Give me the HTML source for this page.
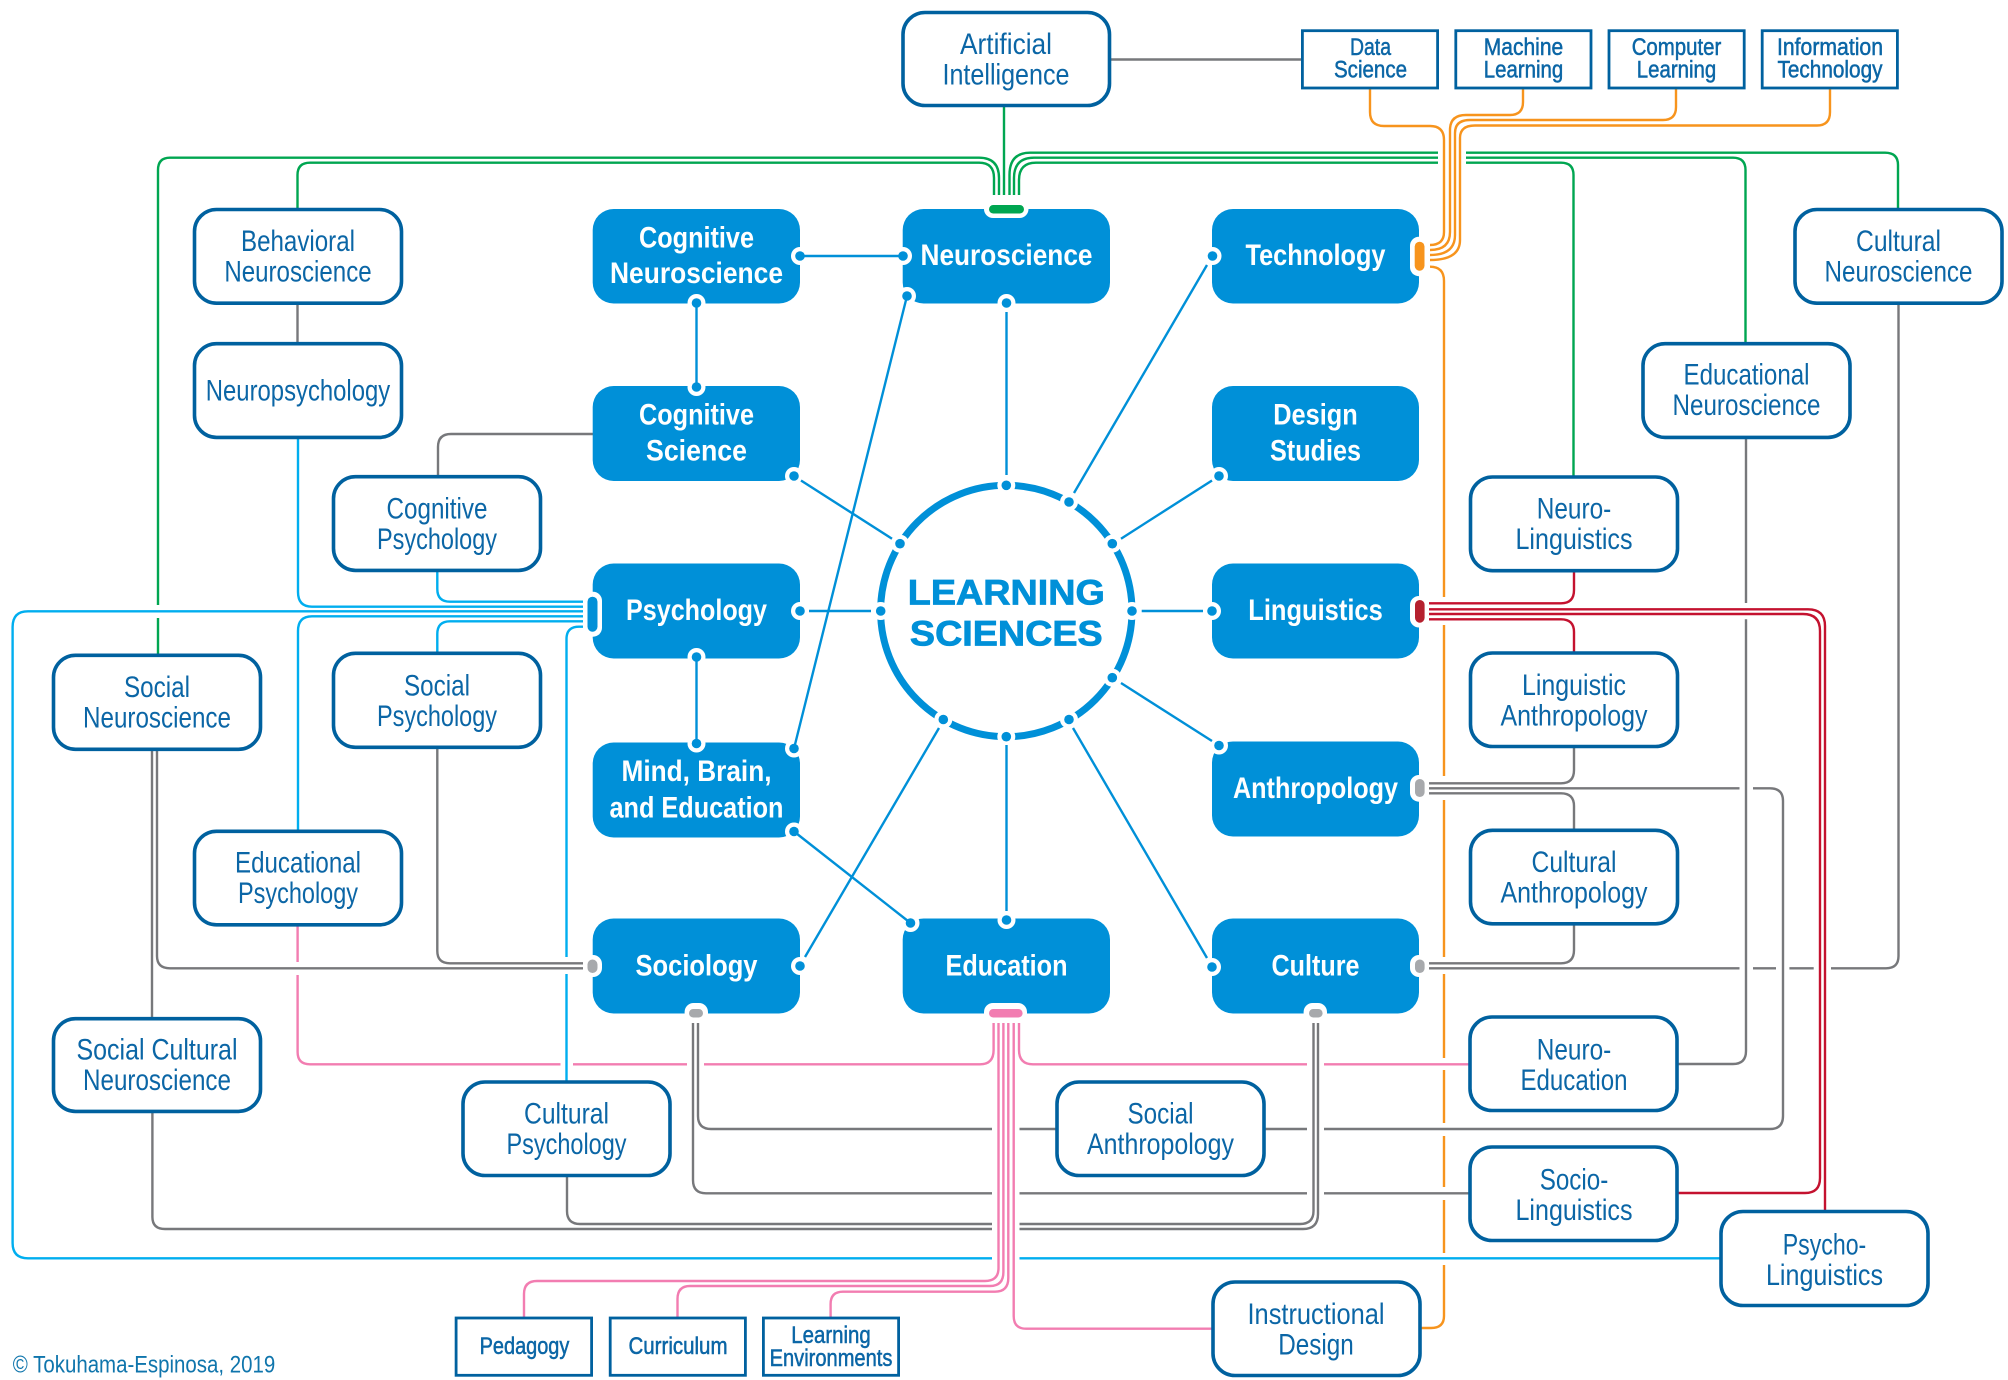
<!DOCTYPE html>
<html><head><meta charset="utf-8"><title>Learning Sciences</title>
<style>
html,body{margin:0;padding:0;background:#fff}
svg{display:block}
text{font-family:"Liberation Sans Narrow","Liberation Sans",sans-serif;text-anchor:middle}
.o text,text.o{font-size:30px;fill:#0b66a6}
.b text{font-size:30px;font-weight:bold;fill:#fff;font-family:"Liberation Sans",sans-serif}
.s text{font-size:24px;fill:#0b66a6;stroke:#0b66a6;stroke-width:.5}
.ob rect{fill:#fff;stroke:#00619f;stroke-width:3.6}
.sb rect{fill:#fff;stroke:#00619f;stroke-width:2.8}
.bb rect{fill:#0090d8}
.l path{fill:none;stroke-width:2.4}
.h{fill:#fff}
.d{fill:#0090d8}
</style></head><body>
<svg width="2008" height="1380" viewBox="0 0 2008 1380" xmlns="http://www.w3.org/2000/svg">
<rect width="2008" height="1380" fill="#fff"/>

<!-- green -->
<g class="l"><path stroke="#00a651" d="M994 200V178Q994 162.7 979 162.7H310Q297.5 162.7 297.5 175V209
M999 200V178Q999 157.7 979 157.7H170Q158 157.7 158 170V605M158 618V654
M1004 107V200
M1009.5 200V175Q1009.5 152.7 1030 152.7H1438M1466 152.7H1885Q1898 152.7 1898 165V209
M1014 200V178Q1014 157.7 1034 157.7H1438M1466 157.7H1733Q1745.5 157.7 1745.5 170V343
M1019 200V180Q1019 162.7 1036 162.7H1438M1466 162.7H1561Q1573.5 162.7 1573.5 175V476"/>
<!-- orange -->
<path stroke="#f7941d" d="M1430 245Q1444 245 1444 232V140Q1444 126 1430 126H1384Q1370 126 1370 112V89
M1430 250Q1450 250 1450 232V130Q1450 115 1466 115H1510Q1523 115 1523 102V89
M1430 255Q1455 255 1455 235V133Q1455 120 1470 120H1663Q1676 120 1676 107V89
M1430 260Q1460 260 1460 240V138Q1460 125.5 1475 125.5H1817Q1830 125.5 1830 112V89
M1430 266.7Q1444 266.7 1444 281V597M1444 625V776M1444 800V957M1444 974V1058M1444 1070V1123M1444 1136V1187M1444 1200V1253M1444 1265V1316Q1444 1328 1431 1328H1420"/>
<!-- red -->
<path stroke="#c4122f" d="M1429 603.3H1561Q1574 603.3 1574 590V572
M1429 609.3H1808Q1825 609.3 1825 626V1210
M1429 614H1803Q1820 614 1820 631V1178Q1820 1193 1805 1193H1678
M1429 619.3H1561Q1574 619.3 1574 632V652"/>
<!-- gray -->
<path stroke="#77787b" d="M1429 783.3H1561Q1574 783.3 1574 770V748
M1429 788.3H1739.5M1753 788.3H1770Q1783 788.3 1783 801V1116Q1783 1129 1770 1129H1324M1307 1129H1265
M1429 793.3H1561Q1574 793.3 1574 806V829
M1429 963.3H1561Q1574 963.3 1574 950V925
M1429 968.3H1739.5M1753 968.3H1776M1789.4 968.3H1813.7M1831 968.3H1886Q1898.5 968.3 1898.5 956V304
M1746 438V603M1746 619.3V1051Q1746 1064 1733 1064H1678
M1313.5 1023V1211Q1313.5 1224 1300 1224H1019.5M992 1224H580Q567 1224 567 1211V1177
M1318 1023V1214Q1318 1229 1303 1229H1019.5M992 1229H165Q152.4 1229 152.4 1217V1112
M693 1023V1180Q693 1193.3 706 1193.3H992M1019.5 1193.3H1307M1324 1193.3H1470
M698 1023V1116Q698 1129 711 1129H992M1019.5 1129H1056
M583 963.3H450Q437.3 963.3 437.3 951V749
M583 968.3H170Q157 968.3 157 956V751
M152 751V1018
M1111 59.5H1301
M297.5 304V343
M593 434H451Q438 434 438 447V476"/>
<!-- cyan -->
<path stroke="#00aeef" d="M583 601.7H450Q437.3 601.7 437.3 589V571
M583 606.7H312Q298 606.7 298 592V438
M583 611.3H28Q12.6 611.3 12.6 627V1243Q12.6 1258.3 28 1258.3H992M1019.5 1258.3H1720
M583 616.3H312Q298 616.3 298 631V830
M583 621.3H450Q437.3 621.3 437.3 634V652
M583 626.7H579Q566.5 626.7 566.5 639V957M566.5 974V1081"/>
<!-- pink -->
<path stroke="#f27db1" d="M993.6 1023V1050Q993.6 1064.3 980 1064.3H704M687 1064.3H573M560.5 1064.3H310Q297.6 1064.3 297.6 1052V975M297.6 962V926
M1019 1023V1050Q1019 1064.3 1033 1064.3H1307M1324 1064.3H1470
M998.5 1023V1268Q998.5 1281 985 1281H537Q524 1281 524 1294V1317
M1003.4 1023V1272Q1003.4 1286 990 1286H690Q677.5 1286 677.5 1299V1317
M1008.3 1023V1278Q1008.3 1291.7 995 1291.7H843Q830.6 1291.7 830.6 1304V1317
M1013.7 1023V1316Q1013.7 1328.7 1026 1328.7H1212"/>
</g>

<!-- blue boxes -->
<g class="bb">
<rect x="592.7" y="209" width="207.3" height="94.5" rx="21"/>
<rect x="902.7" y="209" width="207.3" height="94.5" rx="21"/>
<rect x="1212" y="209" width="207" height="94.5" rx="21"/>
<rect x="592.7" y="386" width="207.3" height="95" rx="21"/>
<rect x="1212" y="386" width="207" height="95" rx="21"/>
<rect x="592.7" y="563.5" width="207.3" height="95" rx="21"/>
<rect x="1212" y="563.5" width="207" height="95" rx="21"/>
<rect x="592.7" y="742.5" width="207.3" height="95" rx="21"/>
<rect x="1212" y="741.5" width="207" height="95" rx="21"/>
<rect x="592.7" y="918.5" width="207.3" height="95" rx="21"/>
<rect x="902.7" y="918.5" width="207.3" height="95" rx="21"/>
<rect x="1212" y="918.5" width="207" height="95" rx="21"/>
</g>

<!-- ring -->
<circle cx="1006.3" cy="611" r="125.7" fill="none" stroke="#0090d8" stroke-width="7"/>
<g class="h">
<circle cx="1006.3" cy="485.3" r="9"/><circle cx="1069" cy="502" r="9"/><circle cx="1112.3" cy="543.7" r="9"/><circle cx="1132" cy="611" r="9"/><circle cx="1112.3" cy="677.7" r="9"/><circle cx="1069" cy="719.5" r="9"/><circle cx="1006.3" cy="736.7" r="9"/><circle cx="943.3" cy="719.5" r="9"/><circle cx="880.7" cy="611" r="9"/><circle cx="900" cy="543.7" r="9"/>
</g>
<g class="d">
<circle cx="1006.3" cy="485.3" r="4.8"/><circle cx="1069" cy="502" r="4.8"/><circle cx="1112.3" cy="543.7" r="4.8"/><circle cx="1132" cy="611" r="4.8"/><circle cx="1112.3" cy="677.7" r="4.8"/><circle cx="1069" cy="719.5" r="4.8"/><circle cx="1006.3" cy="736.7" r="4.8"/><circle cx="943.3" cy="719.5" r="4.8"/><circle cx="880.7" cy="611" r="4.8"/><circle cx="900" cy="543.7" r="4.8"/>
</g>

<!-- box dot halos -->
<g class="h">
<circle cx="800" cy="256" r="9"/><circle cx="903" cy="256" r="9"/><circle cx="907" cy="296" r="9"/><circle cx="1006.5" cy="303" r="9"/><circle cx="1212.5" cy="256" r="9"/>
<circle cx="696.5" cy="303" r="9"/><circle cx="696.5" cy="387" r="9"/><circle cx="794" cy="476" r="9"/><circle cx="1219" cy="476" r="9"/>
<circle cx="800" cy="611" r="9"/><circle cx="1212" cy="611" r="9"/><circle cx="696.5" cy="657" r="9"/><circle cx="696.5" cy="743.5" r="9"/>
<circle cx="794" cy="748.5" r="9"/><circle cx="794" cy="831.5" r="9"/><circle cx="1219" cy="745.5" r="9"/>
<circle cx="800" cy="966" r="9"/><circle cx="910.5" cy="923" r="9"/><circle cx="1006.5" cy="920" r="9"/><circle cx="1212" cy="967" r="9"/>
</g>

<!-- blue connectors -->
<g class="l"><path stroke="#0090d8" stroke-width="2.6" d="M800 256H903
M696.5 303V387
M696.5 657V743.5
M907 296L794 748.5
M794 831.5L910.5 923
M1006.5 312V475
M1207 265L1074 493
M1212 480.5L1121 538.7
M1203 611H1141.7
M1212 741L1121 683
M1207 958L1073 728
M1006.5 911V745
M805 957L939 728
M809 611H871
M801 480.5L892 538.7"/></g>

<g class="d">
<circle cx="800" cy="256" r="4.8"/><circle cx="903" cy="256" r="4.8"/><circle cx="907" cy="296" r="4.8"/><circle cx="1006.5" cy="303" r="4.8"/><circle cx="1212.5" cy="256" r="4.8"/>
<circle cx="696.5" cy="303" r="4.8"/><circle cx="696.5" cy="387" r="4.8"/><circle cx="794" cy="476" r="4.8"/><circle cx="1219" cy="476" r="4.8"/>
<circle cx="800" cy="611" r="4.8"/><circle cx="1212" cy="611" r="4.8"/><circle cx="696.5" cy="657" r="4.8"/><circle cx="696.5" cy="743.5" r="4.8"/>
<circle cx="794" cy="748.5" r="4.8"/><circle cx="794" cy="831.5" r="4.8"/><circle cx="1219" cy="745.5" r="4.8"/>
<circle cx="800" cy="966" r="4.8"/><circle cx="910.5" cy="923" r="4.8"/><circle cx="1006.5" cy="920" r="4.8"/><circle cx="1212" cy="967" r="4.8"/>
</g>

<!-- pills -->
<g class="h">
<rect x="984" y="195" width="44.5" height="23" rx="9"/>
<rect x="1410" y="236.7" width="19" height="39.5" rx="9"/>
<rect x="1410" y="596" width="19" height="31.5" rx="9"/>
<rect x="1410" y="775" width="19" height="26.7" rx="9"/>
<rect x="1410" y="955" width="19" height="22" rx="9"/>
<rect x="583" y="591.7" width="19" height="45" rx="9"/>
<rect x="583" y="955" width="19" height="22" rx="9"/>
<rect x="684.6" y="1003" width="23.4" height="19" rx="9"/>
<rect x="984" y="1003" width="43" height="19" rx="9"/>
<rect x="1303.6" y="1003" width="23.4" height="19" rx="9"/>
</g>
<rect x="989" y="205" width="35" height="8.5" rx="4.2" fill="#00a651"/>
<rect x="1414.7" y="241.7" width="9.8" height="29" rx="4.9" fill="#f7941d"/>
<rect x="1415" y="600" width="9.6" height="22.7" rx="4.8" fill="#b5202e"/>
<rect x="1415" y="779" width="9.6" height="18" rx="4.8" fill="#a7a9ac"/>
<rect x="1415" y="959.5" width="9.6" height="13.5" rx="4.8" fill="#a7a9ac"/>
<rect x="587.5" y="596.7" width="10" height="35" rx="5" fill="#0090d8"/>
<rect x="587.5" y="959.5" width="10" height="13.5" rx="5" fill="#a7a9ac"/>
<rect x="689" y="1009" width="14" height="8.5" rx="4.2" fill="#a7a9ac"/>
<rect x="989" y="1009" width="33.6" height="8.5" rx="4.2" fill="#f27db1"/>
<rect x="1309" y="1009" width="13.6" height="8.5" rx="4.2" fill="#a7a9ac"/>

<!-- outline boxes -->
<g class="ob">
<rect x="903" y="12.5" width="206.5" height="93" rx="22"/>
<rect x="194.5" y="209.5" width="207" height="93.7" rx="22"/>
<rect x="194.5" y="343.7" width="207" height="93.7" rx="22"/>
<rect x="333.5" y="476.7" width="207" height="93.7" rx="22"/>
<rect x="53.5" y="655.3" width="207" height="94" rx="22"/>
<rect x="333.5" y="653.3" width="207" height="94" rx="22"/>
<rect x="194.5" y="831.3" width="207" height="93.5" rx="22"/>
<rect x="53.5" y="1018.7" width="207" height="92.7" rx="22"/>
<rect x="463" y="1082" width="207" height="93.5" rx="22"/>
<rect x="1057" y="1082" width="207" height="93.5" rx="22"/>
<rect x="1795" y="209.5" width="207" height="93.7" rx="22"/>
<rect x="1643" y="343.7" width="207" height="93.7" rx="22"/>
<rect x="1470.5" y="477" width="207" height="93.7" rx="22"/>
<rect x="1470.5" y="653" width="207" height="93.5" rx="22"/>
<rect x="1470.5" y="830.3" width="207" height="93.5" rx="22"/>
<rect x="1470" y="1017" width="207" height="93.5" rx="22"/>
<rect x="1470" y="1147" width="207" height="93.5" rx="22"/>
<rect x="1721" y="1211.5" width="207" height="94" rx="22"/>
<rect x="1213" y="1282" width="207" height="93.5" rx="22"/>
</g>
<!-- small boxes -->
<g class="sb">
<rect x="1302.4" y="30.7" width="135.2" height="57.3"/>
<rect x="1455.8" y="30.7" width="135.2" height="57.3"/>
<rect x="1609" y="30.7" width="135.2" height="57.3"/>
<rect x="1762.2" y="30.7" width="135.2" height="57.3"/>
<rect x="456.1" y="1318" width="135.5" height="57.3"/>
<rect x="610.2" y="1318" width="135.2" height="57.3"/>
<rect x="763.4" y="1318" width="135.2" height="57.3"/>
</g>

<!-- outline labels -->
<g class="o">
<text x="1006" y="54" textLength="92" lengthAdjust="spacingAndGlyphs">Artificial</text>
<text x="1006" y="84.3" textLength="127" lengthAdjust="spacingAndGlyphs">Intelligence</text>
<text x="298" y="251" textLength="114" lengthAdjust="spacingAndGlyphs">Behavioral</text>
<text x="298" y="281.7" textLength="147.3" lengthAdjust="spacingAndGlyphs">Neuroscience</text>
<text x="298" y="400.5" textLength="184.4" lengthAdjust="spacingAndGlyphs">Neuropsychology</text>
<text x="437" y="518.5" textLength="101" lengthAdjust="spacingAndGlyphs">Cognitive</text>
<text x="437" y="549" textLength="120" lengthAdjust="spacingAndGlyphs">Psychology</text>
<text x="157" y="697" textLength="66" lengthAdjust="spacingAndGlyphs">Social</text>
<text x="157" y="727.5" textLength="148" lengthAdjust="spacingAndGlyphs">Neuroscience</text>
<text x="437" y="695.5" textLength="66" lengthAdjust="spacingAndGlyphs">Social</text>
<text x="437" y="726" textLength="120" lengthAdjust="spacingAndGlyphs">Psychology</text>
<text x="298" y="872.5" textLength="126" lengthAdjust="spacingAndGlyphs">Educational</text>
<text x="298" y="903" textLength="120" lengthAdjust="spacingAndGlyphs">Psychology</text>
<text x="157" y="1059.5" textLength="161" lengthAdjust="spacingAndGlyphs">Social Cultural</text>
<text x="157" y="1090" textLength="148" lengthAdjust="spacingAndGlyphs">Neuroscience</text>
<text x="566.5" y="1123.5" textLength="85" lengthAdjust="spacingAndGlyphs">Cultural</text>
<text x="566.5" y="1154" textLength="120" lengthAdjust="spacingAndGlyphs">Psychology</text>
<text x="1160.5" y="1123.5" textLength="66" lengthAdjust="spacingAndGlyphs">Social</text>
<text x="1160.5" y="1154" textLength="147" lengthAdjust="spacingAndGlyphs">Anthropology</text>
<text x="1898.5" y="251" textLength="85" lengthAdjust="spacingAndGlyphs">Cultural</text>
<text x="1898.5" y="281.7" textLength="148" lengthAdjust="spacingAndGlyphs">Neuroscience</text>
<text x="1746.5" y="384.7" textLength="126" lengthAdjust="spacingAndGlyphs">Educational</text>
<text x="1746.5" y="415.2" textLength="148" lengthAdjust="spacingAndGlyphs">Neuroscience</text>
<text x="1574" y="518.5" textLength="74.5" lengthAdjust="spacingAndGlyphs">Neuro-</text>
<text x="1574" y="549" textLength="117" lengthAdjust="spacingAndGlyphs">Linguistics</text>
<text x="1574" y="695.2" textLength="104" lengthAdjust="spacingAndGlyphs">Linguistic</text>
<text x="1574" y="725.7" textLength="147" lengthAdjust="spacingAndGlyphs">Anthropology</text>
<text x="1574" y="872.2" textLength="85" lengthAdjust="spacingAndGlyphs">Cultural</text>
<text x="1574" y="902.7" textLength="147" lengthAdjust="spacingAndGlyphs">Anthropology</text>
<text x="1574" y="1059.5" textLength="74.5" lengthAdjust="spacingAndGlyphs">Neuro-</text>
<text x="1574" y="1090" textLength="107" lengthAdjust="spacingAndGlyphs">Education</text>
<text x="1574" y="1189.5" textLength="68.6" lengthAdjust="spacingAndGlyphs">Socio-</text>
<text x="1574" y="1220" textLength="117" lengthAdjust="spacingAndGlyphs">Linguistics</text>
<text x="1824.5" y="1254.3" textLength="83.5" lengthAdjust="spacingAndGlyphs">Psycho-</text>
<text x="1824.5" y="1284.8" textLength="117" lengthAdjust="spacingAndGlyphs">Linguistics</text>
<text x="1316" y="1323.8" textLength="137" lengthAdjust="spacingAndGlyphs">Instructional</text>
<text x="1316" y="1354.3" textLength="75.5" lengthAdjust="spacingAndGlyphs">Design</text>
</g>

<!-- blue labels -->
<g class="b">
<text x="1006.5" y="265" textLength="172" lengthAdjust="spacingAndGlyphs">Neuroscience</text>
<text x="1315.5" y="265" textLength="140" lengthAdjust="spacingAndGlyphs">Technology</text>
<text x="696.5" y="247.5" textLength="115" lengthAdjust="spacingAndGlyphs">Cognitive</text>
<text x="696.5" y="283" textLength="173" lengthAdjust="spacingAndGlyphs">Neuroscience</text>
<text x="696.5" y="424.5" textLength="115" lengthAdjust="spacingAndGlyphs">Cognitive</text>
<text x="696.5" y="460.5" textLength="101" lengthAdjust="spacingAndGlyphs">Science</text>
<text x="1315.5" y="424.5" textLength="84.5" lengthAdjust="spacingAndGlyphs">Design</text>
<text x="1315.5" y="460.5" textLength="91" lengthAdjust="spacingAndGlyphs">Studies</text>
<text x="696.5" y="620" textLength="141" lengthAdjust="spacingAndGlyphs">Psychology</text>
<text x="1315.5" y="620" textLength="134.5" lengthAdjust="spacingAndGlyphs">Linguistics</text>
<text x="696.5" y="781" textLength="150" lengthAdjust="spacingAndGlyphs">Mind, Brain,</text>
<text x="696.5" y="817.3" textLength="174" lengthAdjust="spacingAndGlyphs">and Education</text>
<text x="1315.5" y="798" textLength="165" lengthAdjust="spacingAndGlyphs">Anthropology</text>
<text x="696.5" y="975.5" textLength="122" lengthAdjust="spacingAndGlyphs">Sociology</text>
<text x="1006.5" y="975.5" textLength="122" lengthAdjust="spacingAndGlyphs">Education</text>
<text x="1315.5" y="975.5" textLength="88" lengthAdjust="spacingAndGlyphs">Culture</text>
</g>

<!-- small labels -->
<g class="s">
<text x="1370.5" y="55" textLength="41" lengthAdjust="spacingAndGlyphs">Data</text>
<text x="1370.5" y="77.7" textLength="73" lengthAdjust="spacingAndGlyphs">Science</text>
<text x="1523.5" y="55" textLength="79.4" lengthAdjust="spacingAndGlyphs">Machine</text>
<text x="1523.5" y="77.7" textLength="79.4" lengthAdjust="spacingAndGlyphs">Learning</text>
<text x="1676.5" y="55" textLength="89.6" lengthAdjust="spacingAndGlyphs">Computer</text>
<text x="1676.5" y="77.7" textLength="79.4" lengthAdjust="spacingAndGlyphs">Learning</text>
<text x="1830" y="55" textLength="106" lengthAdjust="spacingAndGlyphs">Information</text>
<text x="1830" y="77.7" textLength="105" lengthAdjust="spacingAndGlyphs">Technology</text>
<text x="524.5" y="1354" textLength="89.7" lengthAdjust="spacingAndGlyphs">Pedagogy</text>
<text x="678" y="1354" textLength="99" lengthAdjust="spacingAndGlyphs">Curriculum</text>
<text x="831" y="1343" textLength="79.5" lengthAdjust="spacingAndGlyphs">Learning</text>
<text x="831" y="1366" textLength="122.8" lengthAdjust="spacingAndGlyphs">Environments</text>
</g>

<!-- center -->
<g font-weight="bold" fill="#0090d8" stroke="#0090d8" stroke-width=".8" font-size="35">
<text x="1006.3" y="604.3" textLength="197" lengthAdjust="spacingAndGlyphs" style="font-family:'Liberation Sans',sans-serif">LEARNING</text>
<text x="1006.3" y="645.7" textLength="192.7" lengthAdjust="spacingAndGlyphs" style="font-family:'Liberation Sans',sans-serif">SCIENCES</text>
</g>

<text x="144" y="1372.7" font-size="24.5" fill="#0f75ac" textLength="262.5" lengthAdjust="spacingAndGlyphs">© Tokuhama-Espinosa, 2019</text>
</svg>
</body></html>
